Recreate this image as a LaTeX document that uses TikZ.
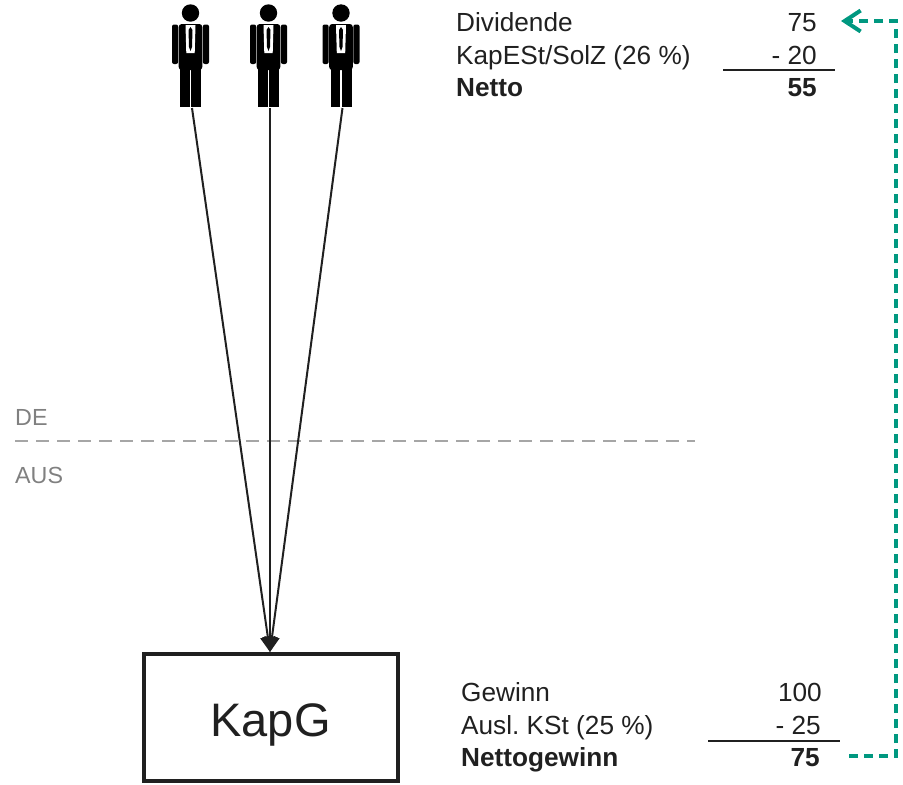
\documentclass[tikz,border=0pt]{standalone}
\usepackage{fontspec}
\setmainfont{Liberation Sans}
\usetikzlibrary{arrows.meta}
\definecolor{txt}{HTML}{202020}
\definecolor{grayline}{HTML}{A6A6A6}
\definecolor{graytxt}{HTML}{808080}
\definecolor{teal}{RGB}{0,152,128}
\begin{document}
\begin{tikzpicture}[x=1pt,y=-1pt,
  person/.pic={
    \fill (0,13) circle (8.7);
    \fill[rounded corners=2] (-18.5,24.5) rectangle (-12.4,64);
    \fill[rounded corners=2] (12.4,24.5) rectangle (18.5,64);
    \fill[rounded corners=3] (-11.8,24) rectangle (11.8,70);
    \fill (-10.5,66) rectangle (-0.8,107);
    \fill (0.8,66) rectangle (10.5,107);
    \fill[white] (-5,25) -- (5,25) -- (4.2,53) -- (-4.2,53) -- cycle;
    \fill (0,27) -- (2,30) -- (1.5,47) -- (0,51) -- (-1.5,47) -- (-2,30) -- cycle;
    \coordinate (-feet) at (1.5,108);
  },
  lbl/.style={font=\fontsize{26.2}{26.2}\selectfont, text=txt, inner sep=0pt, anchor=base west},
  num/.style={font=\fontsize{26.2}{26.2}\selectfont, text=txt, inner sep=0pt, anchor=base east},
  bold/.style={font=\fontsize{26.2}{26.2}\selectfont\bfseries},
  region/.style={font=\fontsize{23.3}{23.3}\selectfont, text=graytxt, inner sep=0pt, anchor=base west},
  rule/.style={draw=txt, line width=2pt},
  owner/.style={draw=txt, line width=2pt, -{Triangle[length=15pt,width=15pt]}},
  flow/.style={draw=teal, line width=4pt, dash pattern=on 9pt off 6pt, -{Straight Barb[length=16pt,width=21pt,line width=4pt]}},
  box/.style={draw=txt, line width=4pt, minimum width=254pt, minimum height=127pt, inner sep=0pt}
]
\useasboundingbox (0,0) rectangle (903,785);

% persons
\pic (p1) at (190.5,0) {person};
\pic (p2) at (268.5,0) {person};
\pic (p3) at (341,0) {person};

% border DE / AUS
\draw[grayline, line width=1.6pt, dash pattern=on 13pt off 8pt] (15,441) -- (695,441);
\node[region] (de) at (15,425) {DE};
\node[region] (aus) at (15,483) {AUS};

% KapG box
\node[box] (kapg) at (271,717.5) {};
\node[font=\fontsize{47}{47}\selectfont, text=txt, inner sep=0pt] (kapgtxt) at (270.5,725) {KapG};
\coordinate (tip) at (270,652);
\draw[owner] (p1-feet) -- (tip);
\draw[owner] (p2-feet) -- (tip);
\draw[owner] (p3-feet) -- (tip);

% top table
\node[lbl] (t1) at (456,31) {Dividende};
\node[lbl] (t2) at (456,64) {KapESt/SolZ (26 \%)};
\node[lbl, bold] (t3) at (456,96) {Netto};
\node[num] (n1) at (817,31) {75};
\node[num] (n2) at (817,64) {- 20};
\node[num, bold] (n3) at (817,96) {55};
\coordinate (r1a) at (723,70);
\coordinate (r1b) at (835,70);
\draw[rule] (r1a) -- (r1b);

% bottom table
\node[lbl] (b1) at (461,701) {Gewinn};
\node[lbl] (b2) at (461,734) {Ausl.\ KSt (25 \%)};
\node[lbl, bold] (b3) at (461,766) {Nettogewinn};
\node[num] (m1) at (822,701) {100};
\node[num] (m2) at (821,734) {- 25};
\node[num, bold] (m3) at (820,766) {75};
\coordinate (r2a) at (708,741);
\coordinate (r2b) at (840,741);
\draw[rule] (r2a) -- (r2b);

% teal flow
\coordinate (fs) at (849,756);
\coordinate (fe) at (841,21);
\draw[flow] (fs) -- (896,756) -- (896,21) -- (fe);
\end{tikzpicture}
\end{document}
